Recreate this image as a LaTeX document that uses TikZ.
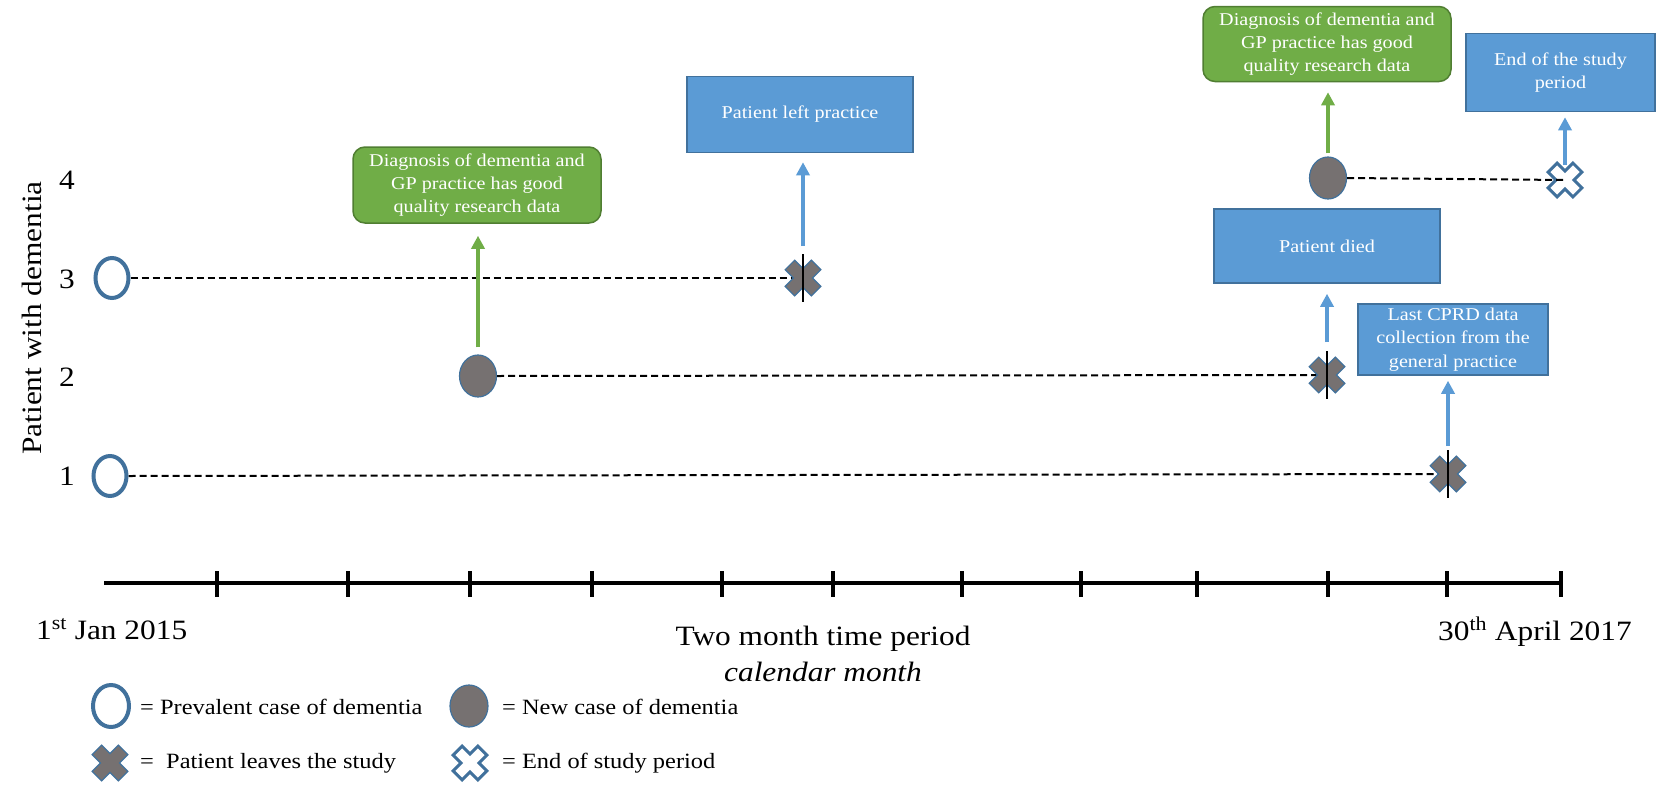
\documentclass[tikz,border=0pt]{standalone}
\usepackage{fontspec}
\setmainfont{Liberation Serif}[FakeStretch=1.12]
\usetikzlibrary{shapes.geometric,arrows.meta}
\definecolor{bfill}{HTML}{5B9BD5}
\definecolor{bline}{HTML}{41719C}
\definecolor{gfill}{HTML}{70AD47}
\definecolor{gline}{HTML}{507E32}
\definecolor{xgray}{HTML}{767171}
\tikzset{
  pics/crossmark/.style={code={
    \path[pic actions] (6.7,18.5) -- (6.7,6.7) -- (18.5,6.7) -- (18.5,-6.7) -- (6.7,-6.7) -- (6.7,-18.5)
      -- (-6.7,-18.5) -- (-6.7,-6.7) -- (-18.5,-6.7) -- (-18.5,6.7) -- (-6.7,6.7) -- (-6.7,18.5) -- cycle;
  }}
}
\begin{document}
\begin{tikzpicture}[x=1pt,y=-1pt,
  bluebox/.style={draw=bline, line width=1.5pt, fill=bfill, text=white, align=center,
    font=\fontsize{18}{23.3}\selectfont, inner sep=0pt},
  greenbox/.style={bluebox, draw=gline, fill=gfill, rounded corners=12pt},
  prevcase/.style={ellipse, draw=bline, line width=4pt, minimum width=33pt, minimum height=40pt, inner sep=0pt},
  newcase/.style={ellipse, draw=bline, fill=xgray, line width=1.2pt, minimum width=37pt, minimum height=42pt, inner sep=0pt},
  xnode/.style={circle, minimum size=37pt, inner sep=0pt},
  leavemark/.style={fill=xgray, draw=bline, line width=1.2pt, rotate=45},
  endmark/.style={fill=white, draw=bline, line width=3pt, rotate=45, scale=0.95},
  follow/.style={draw=black, line width=2pt, dash pattern=on 7pt off 4pt},
  tickline/.style={draw=black, line width=2.5pt},
  axisline/.style={draw=black, line width=4pt},
  barrow/.style={draw=bfill, line width=4pt, -{Triangle[width=13pt,length=13pt]}},
  garrow/.style={draw=gfill, line width=4pt, -{Triangle[width=13pt,length=13pt]}},
  bigtext/.style={font=\fontsize{28}{33}\selectfont, inner sep=0pt},
  legtext/.style={font=\fontsize{21.8}{26}\selectfont, inner sep=0pt, anchor=west}
]
\useasboundingbox (0,0) rectangle (1662,787);

% y-axis label and row numbers
\node[bigtext, rotate=90] (ylab) at (32,318) {Patient with dementia};
\node[bigtext] (n4) at (67,180) {4};
\node[bigtext] (n3) at (67,279) {3};
\node[bigtext] (n2) at (67,377) {2};
\node[bigtext] (n1) at (67,476) {1};

% boxes
\node[greenbox, minimum width=248pt, minimum height=76pt] (g1) at (477,185)
  {Diagnosis of dementia and\\GP practice has good\\quality research data};
\node[bluebox, minimum width=226pt, minimum height=76pt] (left) at (800,114.5) {Patient left practice};
\node[greenbox, minimum width=248pt, minimum height=75pt] (g2) at (1327,44)
  {Diagnosis of dementia and\\GP practice has good\\quality research data};
\node[bluebox, minimum width=189pt, minimum height=78pt] (endb) at (1560.5,72.5) {End of the study\\period};
\node[bluebox, minimum width=226pt, minimum height=74pt] (died) at (1327,246) {Patient died};
\node[bluebox, minimum width=190pt, minimum height=71pt] (cprd) at (1453,339.5)
  {Last CPRD data\\collection from the\\general practice};

% patient markers
\node[prevcase] (p3) at (112,278) {};
\node[prevcase] (p1) at (110,476) {};
\node[newcase] (p2) at (478,376) {};
\node[newcase] (p4) at (1328,178) {};
\node[xnode] (x3) at (803,278) {};
\node[xnode] (x2) at (1327,375) {};
\node[xnode] (x1) at (1448,474) {};
\node[xnode] (xe) at (1565,180) {};

% end of study marker (under its dashed line)
\pic[endmark] at (xe) {crossmark};

% follow-up lines
\draw[follow] (p3.east) -- (x3.center);
\draw[follow] (p2.east) -- (x2.center);
\draw[follow] (p1.east) -- (x1.center);
\draw[follow] (p4.east) -- (xe.center);

% leaving marks
\pic[leavemark] at (x3) {crossmark};
\pic[leavemark] at (x2) {crossmark};
\pic[leavemark] at (x1) {crossmark};
\draw[tickline] ([yshift=24pt]x3.center) -- ([yshift=-24pt]x3.center);
\draw[tickline] ([yshift=24pt]x2.center) -- ([yshift=-24pt]x2.center);
\draw[tickline] ([yshift=24pt]x1.center) -- ([yshift=-24pt]x1.center);

% arrows
\draw[garrow, shorten <=7pt, shorten >=12pt] (p2.north) -- (p2.north |- g1.south);
\draw[garrow, shorten <=3pt, shorten >=10pt] (p4.north) -- (p4.north |- g2.south);
\draw[barrow, shorten <=32pt, shorten >=9pt] (x3.center) -- (x3.center |- left.south);
\draw[barrow, shorten <=33pt, shorten >=10pt] (x2.center) -- (x2.center |- died.south);
\draw[barrow, shorten <=28pt, shorten >=5pt] (x1.center) -- (x1.center |- cprd.south);
\draw[barrow, shorten <=15pt, shorten >=5pt] (xe.center) -- (xe.center |- endb.south);

% time axis
\coordinate (a0) at (104,583);
\coordinate (a1) at (1561,583);
\draw[axisline] (a0) -- (a1);
\foreach \t in {217,348,470,592,722,833,962,1081,1197,1328,1447,1561}
  \draw[axisline] (\t,571) -- (\t,597);

\node[bigtext, anchor=base west] (start) at (36,639) {1\textsuperscript{st} Jan 2015};
\node[bigtext, anchor=base] (period) at (823,645) {Two month time period};
\node[bigtext, anchor=base] (cal) at (823,681) {\itshape calendar month};
\node[bigtext, anchor=base west] (stop) at (1438,640) {30\textsuperscript{th} April 2017};

% legend
\node[prevcase, minimum width=36pt, minimum height=42pt] (lg1) at (111,706) {};
\node[legtext] (lt1) at (140,707) {= Prevalent case of dementia};
\node[newcase, minimum width=38pt, minimum height=42pt] (lg2) at (469,706) {};
\node[legtext] (lt2) at (502,707) {= New case of dementia};
\node[xnode] (lg3) at (110,763) {};
\pic[leavemark] at (lg3) {crossmark};
\node[legtext] (lt3) at (140,763) {=\ \ Patient leaves the study};
\node[xnode] (lg4) at (470,763) {};
\pic[endmark] at (lg4) {crossmark};
\node[legtext] (lt4) at (502,763) {= End of study period};
\end{tikzpicture}
\end{document}
